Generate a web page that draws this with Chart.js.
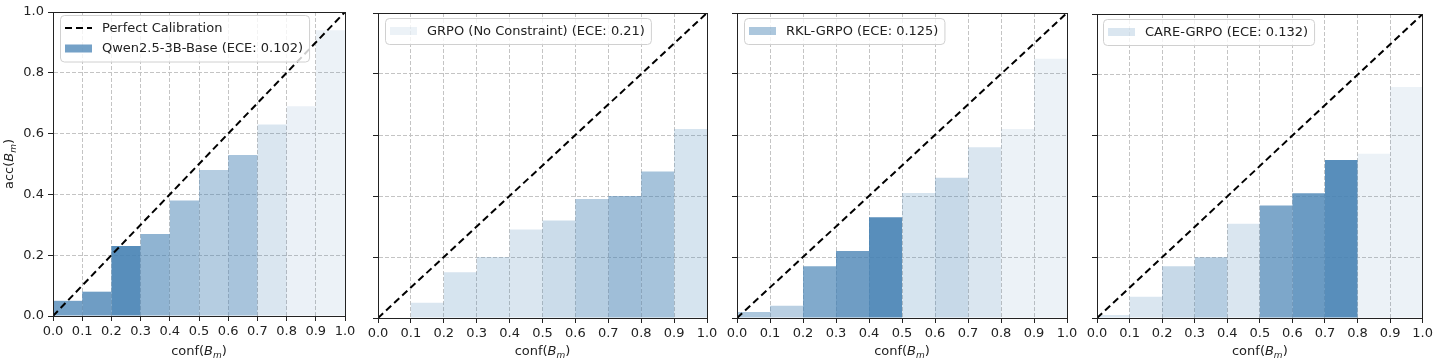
<!DOCTYPE html>
<html>
<head>
<meta charset="utf-8">
<title>Reliability diagrams</title>
<script src="https://cdn.jsdelivr.net/npm/chart.js@4.4.0/dist/chart.umd.min.js"></script>
<style>
  html, body { margin: 0; padding: 0; background: #fff; }
  #wrap { position: relative; width: 1436px; height: 360px; }
  #wrap canvas { position: absolute; left: 0; top: 0; }
</style>
</head>
<body>
<div id="wrap">
  <canvas id="c0" width="1436" height="360"></canvas>
  <canvas id="c1" width="1436" height="360"></canvas>
  <canvas id="c2" width="1436" height="360"></canvas>
  <canvas id="c3" width="1436" height="360"></canvas>
</div>
<script>
// === Datos ===
const binCenters = [0.05, 0.15, 0.25, 0.35, 0.45, 0.55, 0.65, 0.75, 0.85, 0.95];
const modelNames = ['Qwen2.5-3B-Base', 'GRPO (No Constraint)', 'RKL-GRPO', 'CARE-GRPO'];
const eceValues = ['0.102', '0.21', '0.125', '0.132'];

const qwenAcc = [0.05, 0.08, 0.23, 0.27, 0.38, 0.48, 0.53, 0.63, 0.69, 0.94];
const grpoAcc = [0.00, 0.05, 0.15, 0.20, 0.29, 0.32, 0.39, 0.40, 0.48, 0.62];
const rklAcc  = [0.02, 0.04, 0.17, 0.22, 0.33, 0.41, 0.46, 0.56, 0.62, 0.85];
const careAcc = [0.01, 0.07, 0.17, 0.20, 0.31, 0.37, 0.41, 0.52, 0.54, 0.76];

const diagonal = [0, 1];
const xTickLabels = ['0.0', '0.1', '0.2', '0.3', '0.4', '0.5', '0.6', '0.7', '0.8', '0.9', '1.0'];
const yTickLabels = ['0.0', '0.2', '0.4', '0.6', '0.8', '1.0'];

// === Estilo: opacidad de cada barra (steelblue) ===
const binAlpha = [
  [0.75, 0.78, 0.90, 0.60, 0.50, 0.40, 0.47, 0.20, 0.11, 0.10],
  [0.10, 0.20, 0.22, 0.22, 0.20, 0.28, 0.40, 0.52, 0.48, 0.22],
  [0.45, 0.38, 0.68, 0.78, 0.90, 0.22, 0.30, 0.20, 0.10, 0.10],
  [0.20, 0.20, 0.30, 0.40, 0.20, 0.70, 0.80, 0.90, 0.10, 0.10]
];

// === Posición de cada panel ===
const panels = [
  { acc: qwenAcc, left: 53,   right: 345,  top: 12, bottom: 316, showY: true,  lineInLegend: true,  lx: 7, ly: 3 },
  { acc: grpoAcc, left: 378,  right: 707,  top: 13, bottom: 318, showY: false, lineInLegend: false, lx: 7, ly: 5 },
  { acc: rklAcc,  left: 737,  right: 1067, top: 13, bottom: 318, showY: false, lineInLegend: false, lx: 7, ly: 5 },
  { acc: careAcc, left: 1097, right: 1426, top: 14, bottom: 318, showY: false, lineInLegend: false, lx: 6, ly: 5 }
];

const EJE_Y = 50;
const EJE_X = 30;
const TINTA = '#222';
const REJILLA = '#c4c4c4';
const FUENTE = '"DejaVu Sans"';

Chart.defaults.font.family = FUENTE;
Chart.defaults.font.size = 13;
Chart.defaults.color = TINTA;

const alinear = (v) => Math.round(v - 0.5) + 0.5;

// Texto tipo mathtext: conf(B_m)
function textoMat(ctx, partes, cx, baseY) {
  const fuentes = {
    n: `13px ${FUENTE}`,
    i: `italic 13px ${FUENTE}`,
    s: `italic 9px ${FUENTE}`
  };
  let total = 0;
  partes.forEach(([t, e]) => { ctx.font = fuentes[e]; total += ctx.measureText(t).width; });
  let x = cx - total / 2;
  ctx.textAlign = 'left';
  ctx.textBaseline = 'alphabetic';
  partes.forEach(([t, e]) => {
    ctx.font = fuentes[e];
    ctx.fillText(t, x, baseY + (e === 's' ? 3 : 0));
    x += ctx.measureText(t).width;
  });
}

// === Plugin: marco, títulos de ejes y leyenda ===
const marcoPlugin = {
  id: 'marco',
  afterDatasetsDraw(chart) {
    const { ctx, chartArea: a } = chart;
    ctx.save();
    ctx.strokeStyle = TINTA;
    ctx.lineWidth = 1;
    const l = alinear(a.left), r = alinear(a.right), t = alinear(a.top), b = alinear(a.bottom);
    ctx.strokeRect(l, t, r - l, b - t);
    ctx.restore();
  },
  afterDraw(chart, args, opts) {
    const { ctx, chartArea: a } = chart;
    ctx.save();
    ctx.fillStyle = TINTA;
    textoMat(ctx, [['conf(', 'n'], ['B', 'i'], ['m', 's'], [')', 'n']], (a.left + a.right) / 2, 355);
    if (opts.showY) {
      ctx.save();
      ctx.translate(12.5, (a.top + a.bottom) / 2);
      ctx.rotate(-Math.PI / 2);
      textoMat(ctx, [['acc(', 'n'], ['B', 'i'], ['m', 's'], [')', 'n']], 0, 0);
      ctx.restore();
    }

    // Leyenda estilo matplotlib
    const items = chart.data.datasets.filter(ds => ds.enLeyenda);
    ctx.font = `13px ${FUENTE}`;
    const anchoTexto = Math.max(...items.map(ds => ctx.measureText(ds.label).width));
    const bx = a.left + opts.lx;
    const by = a.top + opts.ly;
    const paso = 20.5;
    const bw = 42 + anchoTexto + 6;
    const bh = 13 + 13 + (items.length - 1) * paso;

    ctx.beginPath();
    ctx.roundRect(bx + 0.5, by + 0.5, bw, bh, 4);
    ctx.fillStyle = 'rgba(255,255,255,0.8)';
    ctx.fill();
    ctx.strokeStyle = '#d0d0d0';
    ctx.lineWidth = 1;
    ctx.stroke();

    items.forEach((ds, i) => {
      const cy = by + 13 + i * paso;
      if (ds.type === 'line') {
        ctx.save();
        ctx.strokeStyle = ds.borderColor;
        ctx.lineWidth = ds.borderWidth;
        ctx.setLineDash(ds.borderDash);
        ctx.beginPath();
        ctx.moveTo(bx + 5, cy);
        ctx.lineTo(bx + 32, cy);
        ctx.stroke();
        ctx.restore();
      } else {
        ctx.fillStyle = ds.backgroundColor[0];
        ctx.fillRect(bx + 5, cy - 4, 27, 8);
      }
      ctx.fillStyle = TINTA;
      ctx.textAlign = 'left';
      ctx.textBaseline = 'middle';
      ctx.fillText(ds.label, bx + 42, cy + 0.5);
    });
    ctx.restore();
  }
};

// === Gráficas ===
panels.forEach((p, k) => {
  const colores = binAlpha[k].map(al => `rgba(70,130,180,${al})`);

  new Chart(document.getElementById('c' + k), {
    type: 'bar',
    data: {
      datasets: [
        {
          type: 'line',
          label: 'Perfect Calibration',
          data: diagonal.map(v => ({ x: v, y: v })),
          borderColor: '#000',
          borderWidth: 2,
          borderDash: [7, 4],
          pointRadius: 0,
          fill: false,
          order: 0,
          enLeyenda: p.lineInLegend
        },
        {
          type: 'bar',
          label: `${modelNames[k]} (ECE: ${eceValues[k]})`,
          data: binCenters.map((c, i) => ({ x: c, y: p.acc[i] })),
          backgroundColor: colores,
          borderWidth: 0,
          barPercentage: 1,
          categoryPercentage: 1,
          inflateAmount: 0,
          order: 1,
          enLeyenda: true
        }
      ]
    },
    options: {
      responsive: false,
      animation: false,
      devicePixelRatio: 1,
      layout: {
        padding: {
          left: p.left - EJE_Y,
          right: 1436 - p.right,
          top: p.top,
          bottom: 360 - p.bottom - EJE_X
        }
      },
      plugins: {
        legend: { display: false },
        tooltip: { enabled: false },
        marco: { showY: p.showY, lx: p.lx, ly: p.ly }
      },
      scales: {
        x: {
          type: 'linear',
          min: 0,
          max: 1,
          offset: false,
          grid: { offset: false, color: REJILLA, lineWidth: 1, tickLength: 5, tickColor: TINTA, tickWidth: 1 },
          border: { color: TINTA, dash: [4, 2] },
          ticks: {
            stepSize: 1 / (xTickLabels.length - 1),
            autoSkip: false,
            maxRotation: 0,
            padding: 3,
            callback: (v, i) => xTickLabels[i]
          },
          afterFit: (s) => { s.height = EJE_X; }
        },
        y: {
          type: 'linear',
          min: 0,
          max: 1,
          grid: { color: REJILLA, lineWidth: 1, tickLength: 5, tickColor: TINTA, tickWidth: 1 },
          border: { color: TINTA, dash: [4, 2] },
          ticks: {
            display: p.showY,
            stepSize: 1 / (yTickLabels.length - 1),
            padding: 4,
            callback: (v, i) => yTickLabels[i]
          },
          afterFit: (s) => { s.width = EJE_Y; }
        }
      }
    },
    plugins: [marcoPlugin]
  });
});
</script>
</body>
</html>
